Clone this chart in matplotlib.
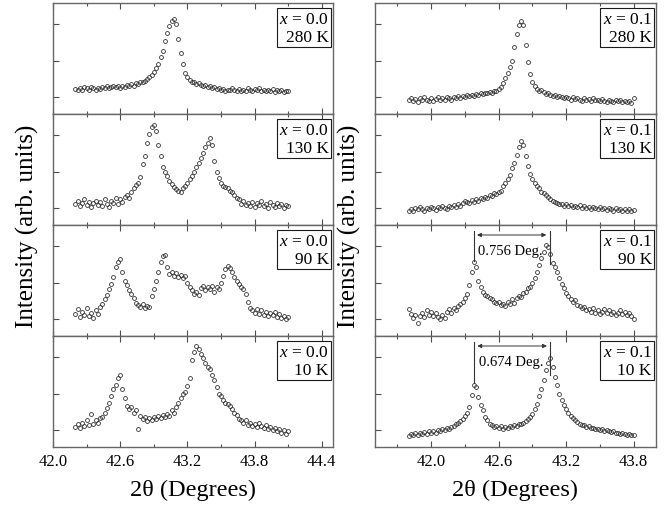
import numpy as np
import matplotlib
matplotlib.use('Agg')
import matplotlib.pyplot as plt
from matplotlib.ticker import MultipleLocator

plt.rcParams['font.family'] = 'serif'
plt.rcParams['font.serif'] = ['Liberation Serif', 'DejaVu Serif']
plt.rcParams['mathtext.fontset'] = 'custom'
plt.rcParams['mathtext.rm'] = 'Liberation Serif'
plt.rcParams['mathtext.it'] = 'Liberation Serif:italic'

# 2theta scan grids (0.02 deg steps)
tt_x00 = np.round(np.arange(42.20, 44.1001, 0.02), 2)   # x = 0.0 column
tt_x01 = np.round(np.arange(41.80, 43.8001, 0.02), 2)   # x = 0.1 column

# intensities (arb. units), x = 0.0
int_x00_280 = [22.5, 21.5, 23, 22, 24, 23.5, 22, 24.5, 23, 21.5,
               23.5, 22.5, 24, 23, 25, 23.5, 24.5, 25.5, 24, 25,
               23.5, 25.5, 24.5, 26, 25, 27, 25.5, 28, 27, 28.5,
               29, 30, 31.5, 33, 35, 38, 41, 45, 51, 57,
               66, 73, 79, 84, 85.5, 81, 68, 55, 45, 37,
               33, 30.5, 29, 28.5, 27, 27.5, 26, 25.5, 26, 24.5,
               25, 23.5, 24, 22.5, 23, 22, 22.5, 21, 22, 21.5,
               23, 22, 21, 22.5, 20.5, 22, 21, 23, 22, 20.5,
               22.5, 21.5, 23, 21, 22, 20.5, 22, 21, 22.5, 20,
               21.5, 20.5, 22, 20, 21, 20.5]
int_x00_130 = [19, 22, 17, 20, 23, 18, 21, 16, 20, 22,
               18, 21, 17, 23, 19, 16, 22, 20, 24, 19,
               23, 21, 25, 27, 24, 30, 33, 36, 38, 43,
               55, 62, 74, 82, 88, 90, 85, 72, 62, 52,
               48, 44, 40, 37, 34, 32, 31, 30, 33, 35,
               38, 41, 44, 48, 52, 56, 60, 65, 70, 74,
               78, 72, 58, 48, 42, 38, 35, 34, 33, 31,
               30, 27, 24, 23, 19, 22, 18, 20, 17, 21,
               16, 20, 18, 22, 17, 19, 15, 21, 18, 16,
               20, 17, 19, 15, 18, 17]
int_x00_90 = [20, 24, 17, 22, 19, 25, 18, 21, 16, 23,
              20, 26, 29, 33, 37, 42, 47, 53, 62, 67,
              69, 58, 50, 46, 41, 38, 34, 30, 28, 26,
              29, 25, 27, 26, 36, 42, 50, 58, 67, 72,
              73, 62, 56, 58, 54, 57, 53, 55, 52, 54,
              48, 44, 41, 38, 40, 37, 43, 45, 41, 44,
              42, 45, 40, 44, 42, 48, 54, 60, 63, 61,
              58, 53, 50, 47, 44, 42, 38, 31, 25, 23,
              21, 24, 20, 23, 19, 22, 18, 21, 19, 22,
              17, 20, 16, 18, 15, 17]
int_x00_10 = [18, 21, 17, 22, 19, 24, 20, 30, 21, 24,
              22, 26, 27, 31, 35, 40, 46, 52, 56, 62,
              65, 52, 44, 37, 34, 36, 31, 33, 16, 28,
              25, 27, 23, 26, 24, 27, 25, 28, 26, 29,
              27, 30, 28, 33, 31, 36, 40, 44, 48, 50,
              55, 62, 78, 86, 91, 88, 84, 80, 76, 72,
              70, 65, 60, 54, 48, 46, 42, 40, 39, 37,
              34, 31, 29, 25, 24, 22, 24, 20, 22, 19,
              21, 18, 22, 19, 17, 20, 16, 18, 15, 17,
              14, 16, 13, 15, 12, 14]

# x = 0.1
int_x01_280 = [13, 14.5, 12, 13.5, 11, 14, 12.5, 15, 13, 11.5,
               14, 12, 13.5, 15, 13, 14.5, 12.5, 15.5, 14, 13,
               15, 14, 16, 14.5, 16.5, 15, 17, 16, 17.5, 16.5,
               18, 17, 18.5, 18, 19, 18.5, 19.5, 19, 20.5, 21,
               22.5, 24, 28, 32, 37, 42, 48, 60, 72, 80,
               84, 80, 62, 47, 36, 29, 25, 22.5, 21, 22,
               19.5, 18, 19, 17.5, 16, 17, 15.5, 16.5, 15, 14,
               15.5, 14, 13, 15, 13.5, 14.5, 13, 12, 14, 12.5,
               13.5, 12, 14, 12.5, 13, 11.5, 13.5, 12, 11, 13,
               12, 10.5, 12.5, 11.5, 13, 11, 12, 10.5, 11.5, 10,
               14]
int_x01_130 = [13, 14.5, 12.5, 15, 14, 16, 14.5, 13, 15.5, 14,
               16.5, 15, 13.5, 16, 15, 17, 15.5, 14.5, 17, 16,
               18, 16.5, 19, 17.5, 20, 22, 21, 19.5, 22.5, 21,
               23.5, 22, 24.5, 23, 25.5, 24.5, 27, 26, 28.5, 27.5,
               30, 31, 35, 38, 41, 45, 51, 56, 63, 70,
               76, 72, 62, 53, 46, 41, 38, 35, 33, 30,
               28.5, 27, 25, 23.5, 22, 21, 20, 19, 18.5, 17.5,
               19, 17, 18, 16.5, 17.5, 16, 18, 15.5, 17, 15,
               16.5, 14.5, 16, 15, 14, 16, 14.5, 15.5, 13.5, 15,
               14, 13, 15, 13.5, 14.5, 13, 14, 12.5, 14, 13,
               13.5]
int_x01_90 = [24, 20, 16, 19, 12, 18, 21, 17, 23, 19,
              22, 18, 21, 17, 15, 19, 16, 22, 24, 21,
              25, 23, 27, 29, 31, 34, 38, 46, 58, 67,
              62, 50, 44, 40, 37, 36, 34, 33, 31, 30,
              31, 28, 29, 27, 31, 29, 33, 30, 34, 36,
              35, 39, 40, 43, 44, 48, 52, 58, 64, 70,
              76, 82, 80, 74, 66, 62, 58, 52, 47, 43,
              39, 36, 33, 31, 32, 28, 27, 25, 26, 23,
              24, 22, 25, 21, 23, 20, 22, 24, 21, 23,
              20, 22, 19, 21, 23, 20, 22, 19, 21, 18,
              15]
int_x01_10 = [10, 12, 10.5, 12.5, 11, 13, 11.5, 13.5, 12, 14,
              12.5, 14.5, 13, 15.5, 14, 16, 15, 17, 16.5, 18,
              19, 20.5, 22, 23.5, 25, 28, 31, 36, 47, 56,
              54, 45, 38, 33, 27, 24, 21, 19.5, 18, 19,
              17, 18.5, 16.5, 18, 17, 19, 18, 19.5, 18.5, 20.5,
              21, 22, 23.5, 25, 27, 30, 34, 39, 46, 52,
              60, 69, 76, 80, 72, 63, 56, 48, 42, 38,
              34, 31, 28, 26, 24, 22.5, 21, 20, 19.5, 18,
              18.5, 17, 17.5, 16, 16.5, 15.5, 16, 14.5, 15, 14,
              13.5, 14, 12.5, 13, 12, 12.5, 11.5, 11, 12, 10.5,
              11]

temps = [280, 130, 90, 10]
left_sets = [int_x00_280, int_x00_130, int_x00_90, int_x00_10]
right_sets = [int_x01_280, int_x01_130, int_x01_90, int_x01_10]

# peak splitting marked in the 90 K and 10 K panels (x = 0.1)
split_peaks = {2: (42.377, 43.054, '0.756 Deg.'),
               3: (42.380, 43.060, '0.674 Deg.')}

fig = plt.figure(figsize=(6.65, 5.06), dpi=100)

W, H = 665, 506
top_px, bot_px = 4, 448
row_h = (bot_px - top_px) / 4
cols = [(53, 333, tt_x00, left_sets, '0.0', (42.0, 44.5)),
        (375, 656, tt_x01, right_sets, '0.1', (41.5, 44.0))]

for ci, (l_px, r_px, xs, sets, xlab, xlim) in enumerate(cols):
    for ri in range(4):
        y_top = top_px + ri * row_h
        ax = fig.add_axes([l_px / W, 1 - (y_top + row_h) / H,
                           (r_px - l_px) / W, row_h / H])
        ax.plot(xs, sets[ri], 'o', mfc='none', mec='0.2', ms=2.8, mew=0.6)
        ax.set_xlim(*xlim)
        ax.set_ylim(0, 100)
        ax.xaxis.set_major_locator(MultipleLocator(0.6))
        ax.xaxis.set_minor_locator(MultipleLocator(0.3))
        ax.set_yticks([15, 48, 81])
        ax.set_yticklabels([])
        ax.tick_params(which='both', direction='in', top=True, bottom=True,
                       left=True, right=False, color='0.3')
        ax.tick_params(which='major', length=4, width=0.8)
        ax.tick_params(which='minor', length=2.5, width=0.8)
        ax.tick_params(axis='x', labelsize=12, pad=4)
        for s in ax.spines.values():
            s.set_color('0.4')
            s.set_linewidth(1.0)
        if ri < 3:
            ax.set_xticklabels([])
        else:
            ax.xaxis.set_major_formatter(plt.FuncFormatter(lambda v, p: f'{v:.1f}'))
        ax.text(0.985, 0.93, f'$x$ = {xlab}\n{temps[ri]} K',
                transform=ax.transAxes, ha='right', va='top', fontsize=12.5,
                linespacing=1.15,
                bbox=dict(boxstyle='square,pad=0.15', fc='white', ec='0.1', lw=0.8))
        if ci == 1 and ri in split_peaks:
            p1, p2, lbl = split_peaks[ri]
            ax.plot([p1, p1], [95, 58 if ri == 3 else 68], color='0.2', lw=0.8)
            ax.plot([p2, p2], [95, 65], color='0.2', lw=0.8)
            ax.annotate('', xy=(p2 - 0.03, 91), xytext=(p1 + 0.03, 91),
                        arrowprops=dict(arrowstyle='<|-|>', lw=0.7, color='0.2',
                                        mutation_scale=6, shrinkA=0, shrinkB=0))
            ax.text((p1 + p2) / 2 - 0.01, 77, lbl, ha='center', va='center', fontsize=10.5)

    xc = (l_px + r_px) / 2 / W
    fig.text(xc, 1 - 490 / H, '2θ (Degrees)', ha='center', va='center', fontsize=17.5)
    fig.text((l_px - 26) / W, 1 - (top_px + bot_px) / 2 / H, 'Intensity (arb. units)',
             rotation=90, ha='center', va='center', fontsize=18)

fig.savefig('out.png', dpi=100)
